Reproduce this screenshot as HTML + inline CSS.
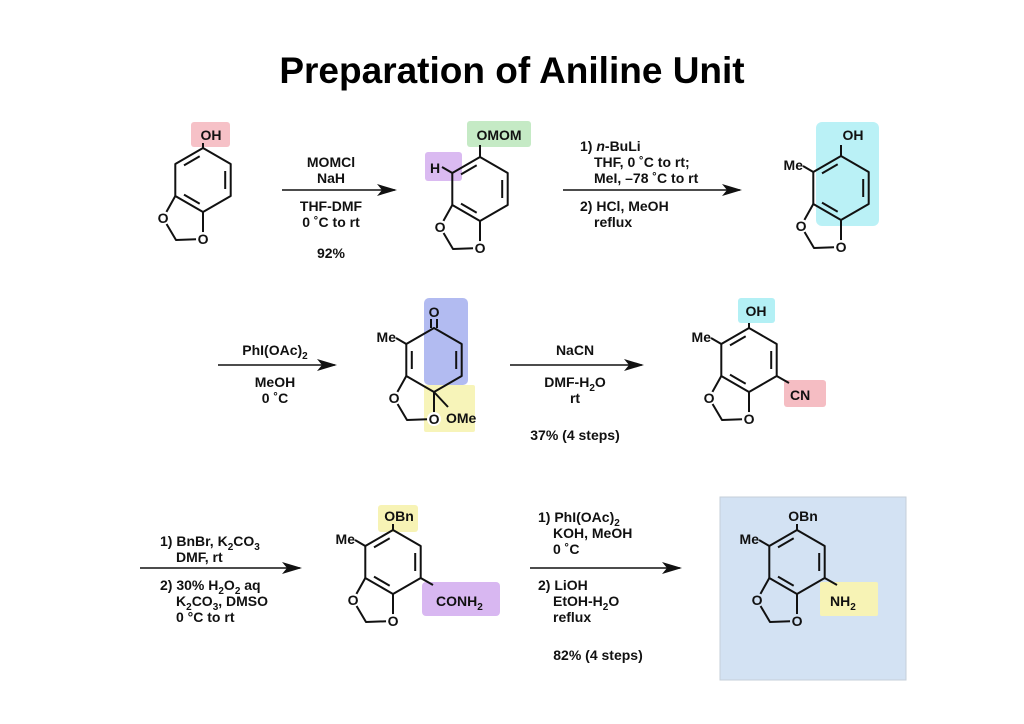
<!DOCTYPE html>
<html><head><meta charset="utf-8"><style>
html,body{margin:0;padding:0;background:#fff;}
svg{display:block;font-family:"Liberation Sans",Arial,sans-serif;font-weight:bold;}
text{font-size:14px;fill:#111;}
.b{stroke:#111;stroke-width:2;fill:none;stroke-linejoin:round;}
</style></head><body>
<svg width="1024" height="724" viewBox="0 0 1024 724" xmlns="http://www.w3.org/2000/svg">
<defs>
<marker id="ah" markerWidth="20" markerHeight="12" refX="18" refY="6" orient="auto" markerUnits="userSpaceOnUse">
<path d="M0,0 L20,6 L0,12 L5,6 Z" fill="#111"/></marker>
<g id="bd">
<path class="b" d="M0,-32 L27.7,-16 L27.7,16 L0,32 L-27.7,16 L-27.7,-16 Z"/>
<path class="b" d="M-27.7,16 L-40,38 L-27,60 L0,59 L0,32"/>
<circle cx="-40" cy="38" r="7" fill="#fff"/>
<circle cx="0" cy="59" r="7" fill="#fff"/>
</g>
<g id="arom">
<path class="b" d="M-19,-14.6 L-3.3,-23.8 M22.2,-9 L22.2,9 M-3.3,23.8 L-19,14.6"/>
</g>
</defs>

<text x="512" y="83" text-anchor="middle" style="font-size:37px;font-weight:bold;fill:#000">Preparation of Aniline Unit</text>

<!-- M1 -->
<g transform="translate(203,180)">
<rect x="-12" y="-58" width="39" height="25" rx="3" fill="#f4b6bd" opacity="0.85"/>
<use href="#bd"/><use href="#arom"/>
<path class="b" d="M0,-32 L0,-37"/>
<text x="8" y="-40" text-anchor="middle">OH</text>
<text x="-40" y="43" text-anchor="middle">O</text>
<text x="0" y="64" text-anchor="middle">O</text>
</g>

<!-- arrow 1 -->
<line x1="282" y1="190" x2="395" y2="190" stroke="#111" stroke-width="1.6" marker-end="url(#ah)"/>
<text x="331" y="167" text-anchor="middle">MOMCl</text>
<text x="331" y="183" text-anchor="middle">NaH</text>
<text x="331" y="211" text-anchor="middle">THF-DMF</text>
<text x="331" y="227" text-anchor="middle">0 ˚C to rt</text>
<text x="331" y="258" text-anchor="middle">92%</text>

<!-- M2 -->
<g transform="translate(480,189)">
<rect x="-13" y="-68" width="64" height="26" rx="3" fill="#bfe8bf" opacity="0.9"/>
<rect x="-55" y="-37" width="37" height="29" rx="3" fill="#d6b3f0" opacity="0.9"/>
<use href="#bd"/><use href="#arom"/>
<path class="b" d="M0,-32 L0,-44 M-27.7,-16 L-38,-22"/>
<text x="19" y="-49" text-anchor="middle">OMOM</text>
<text x="-45" y="-16" text-anchor="middle">H</text>
<text x="-40" y="43" text-anchor="middle">O</text>
<text x="0" y="64" text-anchor="middle">O</text>
</g>

<!-- arrow 2 -->
<line x1="563" y1="190" x2="740" y2="190" stroke="#111" stroke-width="1.6" marker-end="url(#ah)"/>
<text x="580" y="151">1) <tspan font-style="italic">n</tspan>-BuLi</text>
<text x="594" y="167">THF, 0 ˚C to rt;</text>
<text x="594" y="183">MeI, –78 ˚C to rt</text>
<text x="580" y="211">2) HCl, MeOH</text>
<text x="594" y="227">reflux</text>

<!-- M3 -->
<g transform="translate(841,188)">
<rect x="-25" y="-66" width="63" height="104" rx="6" fill="#b3f0f5" opacity="0.9"/>
<use href="#bd"/><use href="#arom"/>
<path class="b" d="M0,-32 L0,-43 M-27.7,-16 L-38,-22"/>
<text x="12" y="-48" text-anchor="middle">OH</text>
<text x="-38" y="-18" text-anchor="end">Me</text>
<text x="-40" y="43" text-anchor="middle">O</text>
<text x="0" y="64" text-anchor="middle">O</text>
</g>

<!-- arrow 3 -->
<line x1="218" y1="365" x2="335" y2="365" stroke="#111" stroke-width="1.6" marker-end="url(#ah)"/>
<text x="275" y="355" text-anchor="middle">PhI(OAc)<tspan dy="4" style="font-size:10px">2</tspan></text>
<text x="275" y="387" text-anchor="middle">MeOH</text>
<text x="275" y="403" text-anchor="middle">0 ˚C</text>

<!-- M4 dienone -->
<g transform="translate(434,360)">
<rect x="-10" y="-62" width="44" height="87" rx="5" fill="#aab4f0" opacity="0.9"/>
<rect x="-10" y="25" width="51" height="47" rx="2" fill="#f7f3b5" opacity="0.95"/>
<use href="#bd"/>
<path class="b" d="M-22.2,-9 L-22.2,9 M22.2,-9 L22.2,9"/>
<path class="b" d="M-3,-32 L-3,-41 M3,-32 L3,-41 M-27.7,-16 L-38,-22 M0,32 L14,47"/>
<text x="0" y="-43" text-anchor="middle">O</text>
<text x="-38" y="-18" text-anchor="end">Me</text>
<text x="-40" y="43" text-anchor="middle">O</text>
<text x="0" y="64" text-anchor="middle">O</text>
<text x="12" y="63">OMe</text>
</g>

<!-- arrow 4 -->
<line x1="510" y1="365" x2="642" y2="365" stroke="#111" stroke-width="1.6" marker-end="url(#ah)"/>
<text x="575" y="355" text-anchor="middle">NaCN</text>
<text x="575" y="387" text-anchor="middle">DMF-H<tspan dy="4" style="font-size:10px">2</tspan><tspan dy="-4">O</tspan></text>
<text x="575" y="403" text-anchor="middle">rt</text>
<text x="575" y="440" text-anchor="middle">37% (4 steps)</text>

<!-- M5 -->
<g transform="translate(749,360)">
<rect x="-11" y="-62" width="37" height="25" rx="3" fill="#b3f0f5"/>
<rect x="35" y="20" width="42" height="27" rx="3" fill="#f4b6bd" opacity="0.9"/>
<use href="#bd"/><use href="#arom"/>
<path class="b" d="M0,-32 L0,-37 M-27.7,-16 L-38,-22 M27.7,16 L40,23"/>
<text x="7" y="-44" text-anchor="middle">OH</text>
<text x="-38" y="-18" text-anchor="end">Me</text>
<text x="41" y="40">CN</text>
<text x="-40" y="43" text-anchor="middle">O</text>
<text x="0" y="64" text-anchor="middle">O</text>
</g>

<!-- arrow 5 -->
<line x1="140" y1="568" x2="300" y2="568" stroke="#111" stroke-width="1.6" marker-end="url(#ah)"/>
<text x="160" y="546">1) BnBr, K<tspan dy="4" style="font-size:10px">2</tspan><tspan dy="-4">CO</tspan><tspan dy="4" style="font-size:10px">3</tspan></text>
<text x="176" y="562">DMF, rt</text>
<text x="160" y="590">2) 30% H<tspan dy="4" style="font-size:10px">2</tspan><tspan dy="-4">O</tspan><tspan dy="4" style="font-size:10px">2</tspan><tspan dy="-4"> aq</tspan></text>
<text x="176" y="606">K<tspan dy="4" style="font-size:10px">2</tspan><tspan dy="-4">CO</tspan><tspan dy="4" style="font-size:10px">3</tspan><tspan dy="-4">, DMSO</tspan></text>
<text x="176" y="622">0 °C to rt</text>

<!-- M6 -->
<g transform="translate(393,562)">
<rect x="-15" y="-57" width="40" height="27" rx="3" fill="#f7f3b5"/>
<rect x="29" y="20" width="78" height="34" rx="4" fill="#d6b3f0" opacity="0.95"/>
<use href="#bd"/><use href="#arom"/>
<path class="b" d="M0,-32 L0,-38 M-27.7,-16 L-38,-22 M27.7,16 L40,23"/>
<text x="6" y="-41" text-anchor="middle">OBn</text>
<text x="-38" y="-18" text-anchor="end">Me</text>
<text x="43" y="44">CONH<tspan dy="4" style="font-size:10px">2</tspan></text>
<text x="-40" y="43" text-anchor="middle">O</text>
<text x="0" y="64" text-anchor="middle">O</text>
</g>

<!-- arrow 6 -->
<line x1="530" y1="568" x2="680" y2="568" stroke="#111" stroke-width="1.6" marker-end="url(#ah)"/>
<text x="538" y="522">1) PhI(OAc)<tspan dy="4" style="font-size:10px">2</tspan></text>
<text x="553" y="538">KOH, MeOH</text>
<text x="553" y="554">0 ˚C</text>
<text x="538" y="590">2) LiOH</text>
<text x="553" y="606">EtOH-H<tspan dy="4" style="font-size:10px">2</tspan><tspan dy="-4">O</tspan></text>
<text x="553" y="622">reflux</text>
<text x="598" y="660" text-anchor="middle">82% (4 steps)</text>

<!-- M7 box -->
<rect x="720" y="497" width="186" height="183" fill="#d3e2f3"/>
<rect x="720" y="497" width="186" height="183" fill="none" stroke="#c6cfd8" stroke-width="1"/>
<g transform="translate(797,562)">
<rect x="23" y="20" width="58" height="34" rx="2" fill="#f7f3b5"/>
<path class="b" d="M0,-32 L27.7,-16 L27.7,16 L0,32 L-27.7,16 L-27.7,-16 Z"/>
<path class="b" d="M-27.7,16 L-40,38 L-27,60 L0,59 L0,32"/>
<circle cx="-40" cy="38" r="7" fill="#d3e2f3"/>
<circle cx="0" cy="59" r="7" fill="#d3e2f3"/>
<use href="#arom"/>
<path class="b" d="M0,-32 L0,-38 M-27.7,-16 L-38,-22 M27.7,16 L40,23"/>
<text x="6" y="-41" text-anchor="middle">OBn</text>
<text x="-38" y="-18" text-anchor="end">Me</text>
<text x="33" y="44">NH<tspan dy="4" style="font-size:10px">2</tspan></text>
<text x="-40" y="43" text-anchor="middle">O</text>
<text x="0" y="64" text-anchor="middle">O</text>
</g>
</svg>
</body></html>
